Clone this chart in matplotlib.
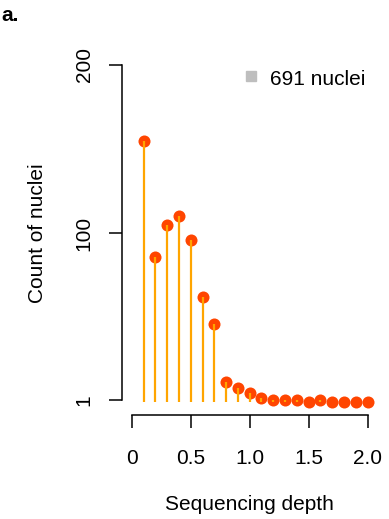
import matplotlib
matplotlib.use("Agg")
import matplotlib.pyplot as plt
from matplotlib.lines import Line2D

plt.rcParams['font.family'] = ['Liberation Sans', 'DejaVu Sans']

# sequencing depth bins and nuclei counts (sum = 691)
depth = [0.1, 0.2, 0.3, 0.4, 0.5, 0.6, 0.7, 0.8, 0.9, 1.0,
         1.1, 1.2, 1.3, 1.4, 1.5, 1.6, 1.7, 1.8, 1.9, 2.0]
counts = [155, 86, 105, 110, 96, 62, 46, 12, 8, 5,
          2, 1, 1, 1, 0, 1, 0, 0, 0, 0]
xticks = [0, 0.5, 1.0, 1.5, 2.0]
xtick_labels = ['0', '0.5', '1.0', '1.5', '2.0']
yticks = [1, 100, 200]
legend_label = f'{sum(counts)} nuclei'

W, H = 389, 519
fig = plt.figure(figsize=(W / 100, H / 100), dpi=100)
ax = fig.add_axes([0.3144, 0.2, 0.655, 0.701])

ax.scatter(depth, counts, s=75, color='#FF4500', zorder=2, linewidths=0)
ax.vlines(depth, 0, counts, color='#FFA500', linewidth=1.6, zorder=3)

ax.set_xlim(-0.08, 2.08)
ax.set_ylim(-8, 208)

for side in ['top', 'right']:
    ax.spines[side].set_visible(False)
ax.spines['left'].set_bounds(1, 200)
ax.spines['bottom'].set_bounds(0, 2)
for side in ['left', 'bottom']:
    ax.spines[side].set_linewidth(1.1)

ax.set_xticks(xticks)
ax.set_xticklabels(xtick_labels)
ax.set_yticks(yticks)
ax.set_yticklabels([str(v) for v in yticks], rotation=90, va='center')
ax.tick_params(axis='both', length=9.5, width=1.1, labelsize=15)
ax.tick_params(axis='x', pad=14.5)
ax.tick_params(axis='y', pad=11)

ax.set_xlabel('Sequencing depth', fontsize=15, va='baseline')
ax.xaxis.set_label_coords(0.5, (415.2 - 510) / 363.8)
ax.set_ylabel('Count of nuclei', fontsize=15, va='baseline')
ax.yaxis.set_label_coords((43.3 - 122.3) / 254.8, 0.5)

# legend: gray square + label
fig.add_artist(Line2D([250.5 / W], [1 - 76 / H], marker='s', markersize=6.5,
                      color='#BEBEBE', linestyle='none',
                      transform=fig.transFigure))
fig.text(269.5 / W, 1 - 85 / H, legend_label, fontsize=15,
         ha='left', va='baseline')

fig.text(1.5 / W, 1 - 21 / H, 'a.', fontsize=15, fontweight='bold',
         ha='left', va='baseline')

fig.savefig('out.png', dpi=100)
